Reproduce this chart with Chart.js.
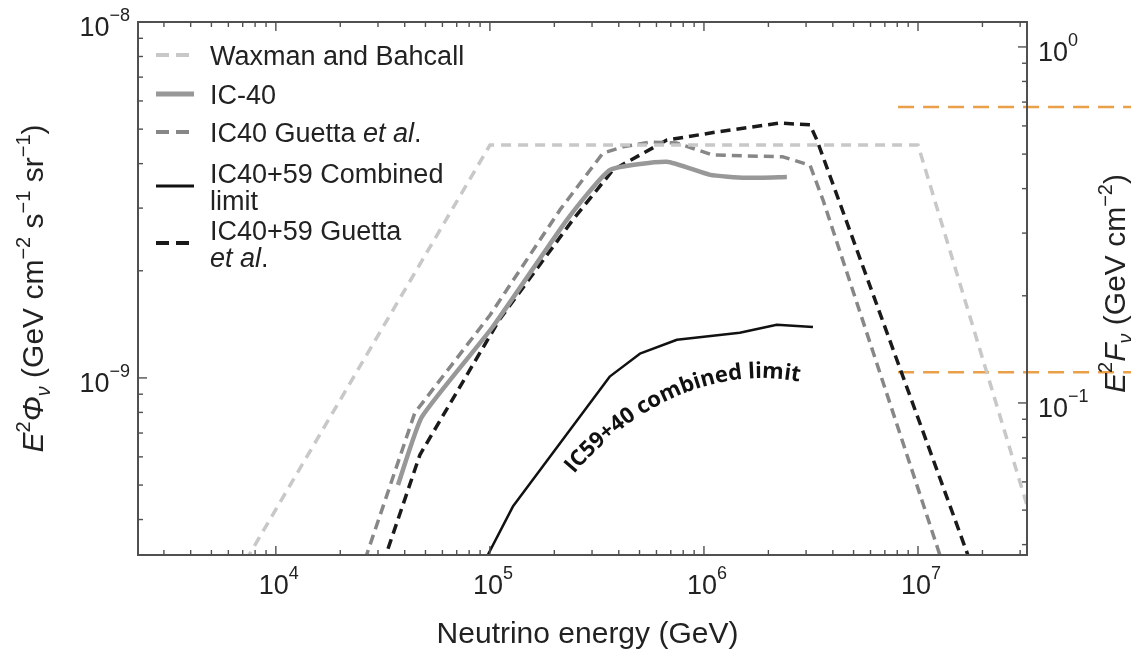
<!DOCTYPE html>
<html><head><meta charset="utf-8">
<script src="https://cdn.jsdelivr.net/npm/chart.js@4.4.1/dist/chart.umd.min.js"></script>
<style>html,body{margin:0;padding:0;background:#fff;}#wrap{width:1131px;height:654px;position:relative;}</style>
</head><body><div id="wrap"><canvas id="c"></canvas></div>
<script>
// ---------------- data ----------------
const energyRange = [2270, 3.23e7];          // GeV
const fluxRange = [3.18e-10, 1e-8];          // E^2 Phi
const fluenceRange = [0.0374, 1.175];        // E^2 F (right axis)

const wbEnergy = [5e3, 1e5, 1e7, 5e7];
const wbFlux   = [2.1e-10, 4.51e-9, 4.51e-9, 1.84e-10];

const ic40Energy = [3.72e4, 4.81e4, 1.03e5, 2.29e5, 3.64e5, 6.71e5, 1.07e6, 1.56e6, 2.44e6];
const ic40Flux   = [5.0e-10, 7.77e-10, 1.39e-9, 2.78e-9, 3.84e-9, 4.05e-9, 3.72e-9, 3.65e-9, 3.67e-9];

const ic40GuettaEnergy = [2.47e4, 4.46e4, 1e5, 2.12e5, 3.37e5, 4.18e5, 5.6e5, 7.48e5, 1.10e6, 2.34e6, 3.13e6, 3.6e6, 1.23e7, 1.5e7];
const ic40GuettaFlux   = [2.8e-10, 7.98e-10, 1.5e-9, 2.96e-9, 4.28e-9, 4.46e-9, 4.6e-9, 4.57e-9, 4.23e-9, 4.18e-9, 3.96e-9, 3.16e-9, 3.35e-10, 2.3e-10];

const comboEnergy = [9.3e4, 1.28e5, 3.64e5, 5.02e5, 7.48e5, 1.47e6, 2.19e6, 3.23e6];
const comboFlux   = [3.0e-10, 4.35e-10, 1.01e-9, 1.17e-9, 1.28e-9, 1.34e-9, 1.41e-9, 1.39e-9];

const comboGuettaEnergy = [3.0e4, 3.33e4, 4.71e4, 1.11e5, 2.44e5, 3.76e5, 6.71e5, 1.15e6, 2.26e6, 3.13e6, 3.37e6, 1.71e7, 2.2e7];
const comboGuettaFlux   = [2.72e-10, 3.29e-10, 6.08e-10, 1.46e-9, 2.78e-9, 3.84e-9, 4.66e-9, 4.91e-9, 5.2e-9, 5.14e-9, 4.66e-9, 3.18e-10, 2.1e-10];

const orangeEnergy = [8.07e6, 1e8];
const orangeLevels = [0.678, 0.122];

const xMajorTicks = [1e4, 1e5, 1e6, 1e7];
const xTickLabels = ['10^4', '10^5', '10^6', '10^7'];
const yMajorTicks = [1e-9, 1e-8];
const yTickLabels = ['10^−9', '10^−8'];
const y2MajorTicks = [0.1, 1];
const y2TickLabels = ['10^−1', '10^0'];
const minorMantissas = [2, 3, 4, 5, 6, 7, 8, 9];

const legendLabels = ['Waxman and Bahcall', 'IC-40', 'IC40 Guetta *et al*.', 'IC40+59 Combined\nlimit', 'IC40+59 Guetta\n*et al*.'];
const annotationText = 'IC59+40 combined limit';
const annotationPathE = [2.47e5, 3.84e5, 9.57e5, 2.81e6];
const annotationPathF = [5.37e-10, 7.38e-10, 1.11e-9, 9.75e-10];

// ---------------- helpers ----------------
const pts = (xs, ys) => xs.map((x, i) => ({x, y: ys[i]}));
const minorTicks = (lo, hi, d0, d1) => {
  const out = [];
  for (let d = d0; d <= d1; d++) for (const m of minorMantissas) {
    const v = m * Math.pow(10, d);
    if (v > lo && v < hi) out.push(v);
  }
  return out;
};
const FONT = '"Liberation Sans", Arial, Helvetica, sans-serif';
const TEXT = '#222';
function fontFor(p, size) {
  const s = (p.sup || p.sub) ? Math.round(size * 0.66) : size;
  return (p.i ? 'italic ' : '') + s + 'px ' + FONT;
}
function richWidth(ctx, parts, size) {
  let w = 0;
  for (const p of parts) { ctx.font = fontFor(p, size); w += ctx.measureText(p.t).width; }
  return w;
}
function drawRich(ctx, parts, size, x, y, supRaise) {
  let cx = x;
  for (const p of parts) {
    ctx.font = fontFor(p, size);
    let dy = 0;
    if (p.sup) dy = -(supRaise || 0.42) * size;
    if (p.sub) dy = 0.22 * size;
    ctx.fillText(p.t, cx, y + dy);
    cx += ctx.measureText(p.t).width;
  }
  return cx - x;
}
function powParts(s) { const [b, e] = s.split('^'); return [{t: b}, {t: e, sup: 1}]; }
function parseItalic(s) {
  const parts = []; const seg = s.split('*');
  seg.forEach((t, k) => { if (t) parts.push({t, i: k % 2 === 1}); });
  return parts;
}

const yTitle = [{t:'E',i:1},{t:'2',sup:1},{t:'Φ',i:1},{t:'ν',i:1,sub:1},{t:' (GeV cm'},{t:'−2',sup:1},{t:' s'},{t:'−1',sup:1},{t:' sr'},{t:'−1',sup:1},{t:')'}];
const y2Title = [{t:'E',i:1},{t:'2',sup:1},{t:'F',i:1},{t:'ν',i:1,sub:1},{t:' (GeV cm'},{t:'−2',sup:1},{t:')'}];
const xTitle = [{t:'Neutrino energy (GeV)'}];

const decor = {
  id: 'decor',
  afterDatasetsDraw(chart) {
    const {ctx, chartArea: a, scales} = chart;
    const X = scales.x, Y = scales.y, Y2 = scales.y2;
    ctx.save();
    // frame
    ctx.strokeStyle = '#505050'; ctx.lineWidth = 2;
    ctx.strokeRect(a.left, a.top, a.right - a.left, a.bottom - a.top);
    // ticks (inward)
    ctx.lineWidth = 1.4; ctx.strokeStyle = '#505050';
    const seg = (x1, y1, x2, y2) => { ctx.beginPath(); ctx.moveTo(x1, y1); ctx.lineTo(x2, y2); ctx.stroke(); };
    const xMin = minorTicks(energyRange[0], energyRange[1], 3, 7);
    for (const v of xMajorTicks) { const x = X.getPixelForValue(v); seg(x, a.bottom, x, a.bottom - 9); seg(x, a.top, x, a.top + 9); }
    for (const v of xMin) { const x = X.getPixelForValue(v); seg(x, a.bottom, x, a.bottom - 5); seg(x, a.top, x, a.top + 5); }
    for (const v of yMajorTicks) { const y = Y.getPixelForValue(v); seg(a.left, y, a.left + 9, y); }
    for (const v of minorTicks(fluxRange[0], fluxRange[1], -10, -9)) { const y = Y.getPixelForValue(v); seg(a.left, y, a.left + 5, y); }
    for (const v of y2MajorTicks) { const y = Y2.getPixelForValue(v); seg(a.right, y, a.right - 9, y); }
    for (const v of minorTicks(fluenceRange[0], fluenceRange[1], -2, -1)) { const y = Y2.getPixelForValue(v); seg(a.right, y, a.right - 5, y); }

    // tick labels
    ctx.fillStyle = TEXT; ctx.textBaseline = 'alphabetic'; ctx.textAlign = 'left';
    const TS = 27;
    xMajorTicks.forEach((v, i) => {
      const parts = powParts(xTickLabels[i]);
      const w = richWidth(ctx, parts, TS);
      drawRich(ctx, parts, TS, X.getPixelForValue(v) - w / 2 + 3, a.bottom + 39, 0.55);
    });
    yMajorTicks.forEach((v, i) => {
      const parts = powParts(yTickLabels[i]);
      const w = richWidth(ctx, parts, TS);
      drawRich(ctx, parts, TS, a.left - 8 - w, Y.getPixelForValue(v) + 14, 0.55);
    });
    y2MajorTicks.forEach((v, i) => {
      const parts = powParts(y2TickLabels[i]);
      drawRich(ctx, parts, TS, a.right + 11, Y2.getPixelForValue(v) + 14, 0.55);
    });

    // axis titles
    const AS = 30;
    { const w = richWidth(ctx, xTitle, AS); drawRich(ctx, xTitle, AS, (a.left + a.right) / 2 - w / 2 + 5, a.bottom + 88); }
    { const w = richWidth(ctx, yTitle, AS);
      ctx.save(); ctx.translate(43, (a.top + a.bottom) / 2); ctx.rotate(-Math.PI / 2);
      drawRich(ctx, yTitle, AS, -w / 2, 0); ctx.restore(); }
    { const w = richWidth(ctx, y2Title, AS);
      ctx.save(); ctx.translate(1125, (a.top + a.bottom) / 2 - 5); ctx.rotate(-Math.PI / 2);
      drawRich(ctx, y2Title, AS, -w / 2, 0); ctx.restore(); }

    // legend
    const LS = 27, rowY = [55, 94, 132, 186, 243], lh = 27;
    legendLabels.forEach((lab, i) => {
      const ds = chart.data.datasets[i];
      const cy = rowY[i];
      ctx.save();
      ctx.strokeStyle = ds.borderColor; ctx.lineWidth = ds.borderWidth + 0.5;
      ctx.setLineDash(ds.borderDash && ds.borderDash.length ? [13, 7] : []);
      ctx.beginPath(); ctx.moveTo(156, cy); ctx.lineTo(194, cy); ctx.stroke();
      ctx.restore();
      const lines = lab.split('\n');
      const y0 = cy - (lines.length - 1) * lh / 2;
      lines.forEach((ln, k) => {
        ctx.fillStyle = TEXT;
        drawRich(ctx, parseItalic(ln), LS, 210, y0 + k * lh + 10);
      });
    });

    // curved annotation
    const P = annotationPathE.map((e, i) => ({x: X.getPixelForValue(e), y: Y.getPixelForValue(annotationPathF[i])}));
    const N = 300, samp = [], cum = [0];
    for (let k = 0; k <= N; k++) {
      const t = k / N, u = 1 - t;
      samp.push({
        x: u*u*u*P[0].x + 3*u*u*t*P[1].x + 3*u*t*t*P[2].x + t*t*t*P[3].x,
        y: u*u*u*P[0].y + 3*u*u*t*P[1].y + 3*u*t*t*P[2].y + t*t*t*P[3].y
      });
      if (k > 0) cum.push(cum[k - 1] + Math.hypot(samp[k].x - samp[k - 1].x, samp[k].y - samp[k - 1].y));
    }
    ctx.font = '700 22px "Open Sans", sans-serif';
    ctx.fillStyle = '#111'; ctx.textAlign = 'center';
    let cursor = 0;
    for (const ch of annotationText) {
      const w = ctx.measureText(ch).width;
      const s = cursor + w / 2;
      let k = 1; while (k < N && cum[k] < s) k++;
      const p0 = samp[k - 1], p1 = samp[k];
      const f = (s - cum[k - 1]) / Math.max(1e-6, cum[k] - cum[k - 1]);
      const px = p0.x + (p1.x - p0.x) * f, py = p0.y + (p1.y - p0.y) * f;
      const ang = Math.atan2(p1.y - p0.y, p1.x - p0.x);
      ctx.save(); ctx.translate(px, py); ctx.rotate(ang); ctx.fillText(ch, 0, 0); ctx.restore();
      cursor += w;
    }
    ctx.restore();
  }
};

const mk = (label, data, color, width, dash, extra) => Object.assign({
  label, data, borderColor: color, borderWidth: width, borderDash: dash,
  pointRadius: 0, fill: false, tension: 0, borderCapStyle: 'butt', borderJoinStyle: 'round'
}, extra || {});

new Chart(document.getElementById('c'), {
  type: 'line',
  data: {
    datasets: [
      mk('Waxman and Bahcall', pts(wbEnergy, wbFlux), '#c8c8c8', 3.5, [10, 7]),
      mk('IC-40', pts(ic40Energy, ic40Flux), '#989898', 4.5, [], {tension: 0.15}),
      mk('IC40 Guetta et al.', pts(ic40GuettaEnergy, ic40GuettaFlux), '#878787', 3.5, [10, 6]),
      mk('IC40+59 Combined limit', pts(comboEnergy, comboFlux), '#111111', 2.5, []),
      mk('IC40+59 Guetta et al.', pts(comboGuettaEnergy, comboGuettaFlux), '#1a1a1a', 3.5, [10, 6]),
      mk('orange high', pts(orangeEnergy, [orangeLevels[0], orangeLevels[0]]), '#e9a049', 2.5, [16, 9], {yAxisID: 'y2', clip: false}),
      mk('orange low', pts(orangeEnergy, [orangeLevels[1], orangeLevels[1]]), '#e9a049', 2.5, [16, 9], {yAxisID: 'y2', clip: false})
    ]
  },
  options: {
    responsive: true, maintainAspectRatio: false, animation: false, devicePixelRatio: 1,
    layout: {padding: {left: 138, right: 104, top: 22, bottom: 99}},
    plugins: {legend: {display: false}, tooltip: {enabled: false}},
    scales: {
      x: {type: 'logarithmic', min: energyRange[0], max: energyRange[1], display: false},
      y: {type: 'logarithmic', min: fluxRange[0], max: fluxRange[1], display: false},
      y2: {type: 'logarithmic', position: 'right', min: fluenceRange[0], max: fluenceRange[1], display: false}
    }
  },
  plugins: [decor]
});
</script></body></html>
